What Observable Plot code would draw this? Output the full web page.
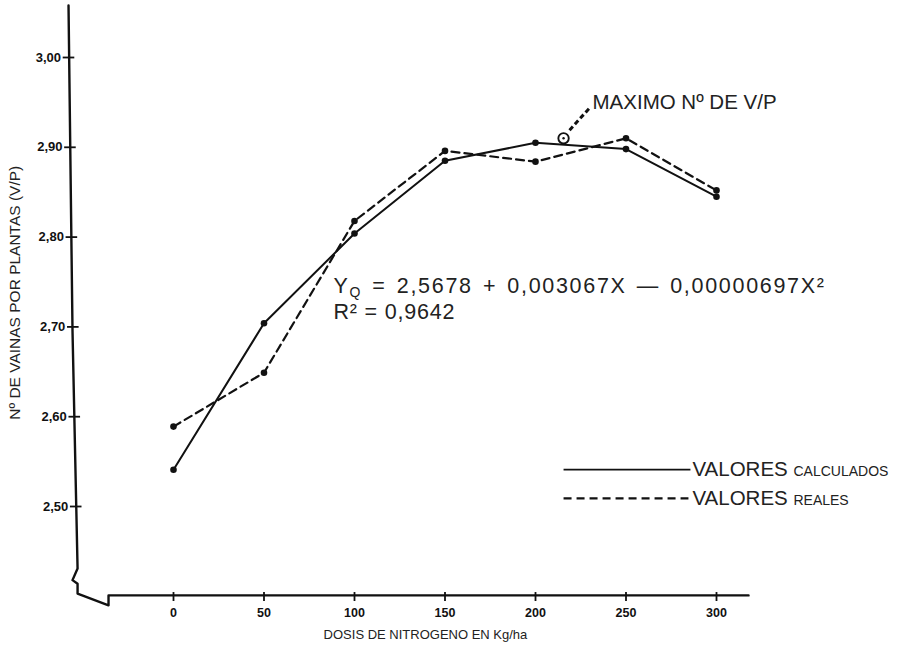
<!DOCTYPE html>
<html><head><meta charset="utf-8">
<script src="https://cdn.jsdelivr.net/npm/d3@7"></script>
<script src="https://cdn.jsdelivr.net/npm/@observablehq/plot@0.6"></script>
<style>
html,body{margin:0;padding:0;background:#fff;}
svg{display:block;}
</style>
</head><body><div id="chart"></div>
<script>
// ---- data ----
const dosis = [0, 50, 100, 150, 200, 250, 300];
const calculados = [2.541, 2.704, 2.804, 2.885, 2.905, 2.898, 2.845];
const reales = [2.589, 2.649, 2.818, 2.896, 2.884, 2.910, 2.852];
const xTicks = [0, 50, 100, 150, 200, 250, 300];
const xTickLabels = ["0", "50", "100", "150", "200", "250", "300"];
const yTicks = [2.5, 2.6, 2.7, 2.8, 2.9, 3.0];
const yTickLabels = ["2,50", "2,60", "2,70", "2,80", "2,90", "3,00"];
const maxDosis = [215.5];
const maxValor = [2.910];

// ---- tables for the library ----
const calcRows = dosis.map((d, i) => ({x: d, y: calculados[i]}));
const realRows = dosis.map((d, i) => ({x: d, y: reales[i]}));

// hand-drawn axis frame (in data units)
const axisPath = [
  {x: -58.0, y: 3.058}, {x: -55.8, y: 2.696}, {x: -53.0, y: 2.431},
  {x: -55.8, y: 2.418}, {x: -53.0, y: 2.414}, {x: -53.0, y: 2.403},
  {x: -35.9, y: 2.390}, {x: -35.9, y: 2.401}, {x: 317.7, y: 2.401}
];
const axisX = v => -58.0 + (3.058 - v) * (5.0 / 0.627);

const ink = "#111";
const font = "Liberation Sans, Arial, sans-serif";

const svg = Plot.plot({
  width: 918, height: 647,
  marginLeft: 173, marginRight: 202, marginTop: 57, marginBottom: 141,
  x: {domain: [0, 300], axis: null},
  y: {domain: [2.5, 3.0], axis: null},
  style: {background: "#fff", fontFamily: font, color: ink},
  marks: [
    Plot.line(axisPath, {x: "x", y: "y", stroke: ink, strokeWidth: 2.4, curve: "linear"}),
    Plot.ruleY(yTicks, {y: d => d, x1: d => axisX(d) - 3.4, x2: d => axisX(d) + 3.0, stroke: ink, strokeWidth: 1.8}),
    Plot.text(yTicks, {x: d => axisX(d) - 4.6, y: d => d, text: (d, i) => yTickLabels[i], textAnchor: "end", fontWeight: "bold", fontSize: 13, fill: ink}),
    Plot.ruleX(xTicks, {x: d => d, y1: 2.4042, y2: 2.3942, stroke: ink, strokeWidth: 1.8}),
    Plot.text(xTicks, {x: d => d, y: 2.381, text: (d, i) => xTickLabels[i], fontWeight: "bold", fontSize: 12.5, fill: ink}),
    Plot.text(["DOSIS DE NITROGENO EN Kg/ha"], {x: 139.2, y: 2.3575, text: d => d, fontSize: 13, fill: "#222"}),
    Plot.text(["Nº DE VAINAS POR PLANTAS (V/P)"], {x: -87.8, y: 2.738, text: d => d, rotate: -90, fontSize: 15.5, fill: "#222"}),
    // series
    Plot.line(calcRows, {x: "x", y: "y", stroke: ink, strokeWidth: 2}),
    Plot.line(realRows, {x: "x", y: "y", stroke: ink, strokeWidth: 2.2, strokeDasharray: "8,5"}),
    Plot.dot(calcRows, {x: "x", y: "y", r: 3.3, fill: ink}),
    Plot.dot(realRows, {x: "x", y: "y", r: 3.3, fill: ink}),
    // maximum marker
    Plot.link([0], {x1: 218.8, y1: 2.919, x2: 230.4, y2: 2.945, stroke: ink, strokeWidth: 3, strokeDasharray: "5,3"}),
    Plot.dot(maxDosis, {x: d => d, y: (d, i) => maxValor[i], r: 5.2, fill: "#fff", stroke: ink, strokeWidth: 1.9}),
    Plot.dot(maxDosis, {x: d => d, y: (d, i) => maxValor[i], r: 1.2, fill: ink}),
    Plot.text(["MAXIMO Nº DE V/P"], {x: 231.5, y: 2.950, text: d => d, textAnchor: "start", fontSize: 20.5, fill: "#222"}),
    // equation
    Plot.text(["YQ = 2,5678 + 0,003067X — 0,00000697X²"], {x: 88.4, y: 2.745, text: d => d, textAnchor: "start", fontSize: 21.5, fill: "#222"}),
    Plot.text(["R² = 0,9642"], {x: 88.4, y: 2.716, text: d => d, textAnchor: "start", fontSize: 21.5, fill: "#222"}),
    // legend
    Plot.link([0], {x1: 215.5, y1: 2.541, x2: 285.6, y2: 2.541, stroke: ink, strokeWidth: 1.7}),
    Plot.link([0], {x1: 215.5, y1: 2.509, x2: 284.5, y2: 2.509, stroke: ink, strokeWidth: 2.2, strokeDasharray: "8,5"}),
    Plot.text(["VALORES CALCULADOS"], {x: 286.7, y: 2.541, text: d => d, textAnchor: "start", fontSize: 20.5, fill: "#222"}),
    Plot.text(["VALORES REALES"], {x: 286.7, y: 2.509, text: d => d, textAnchor: "start", fontSize: 20.5, fill: "#222"})
  ]
});

// typographic details: subscript Q, spacing and small capitals
const ns = "http://www.w3.org/2000/svg";
function rebuild(el, parts) {
  el.textContent = "";
  for (const [t, attrs] of parts) {
    const ts = document.createElementNS(ns, "tspan");
    for (const k in attrs) ts.setAttribute(k, attrs[k]);
    ts.textContent = t;
    el.appendChild(ts);
  }
}
svg.querySelectorAll("text").forEach(el => {
  const t = el.textContent;
  if (t.startsWith("YQ =")) {
    el.setAttribute("letter-spacing", "1.7");
    el.setAttribute("word-spacing", "2.5");
    rebuild(el, [["Y", {}], ["Q", {"font-size": "14", dy: "3.5"}], [t.slice(2), {dy: "-3.5"}]]);
  } else if (t.startsWith("R² =")) {
    el.setAttribute("letter-spacing", "0.8");
  } else if (t === "VALORES CALCULADOS") {
    rebuild(el, [["VALORES ", {}], ["CALCULADOS", {"font-size": "14"}]]);
  } else if (t === "VALORES REALES") {
    rebuild(el, [["VALORES ", {}], ["REALES", {"font-size": "14"}]]);
  }
});
document.getElementById("chart").appendChild(svg);
</script>
</body></html>
